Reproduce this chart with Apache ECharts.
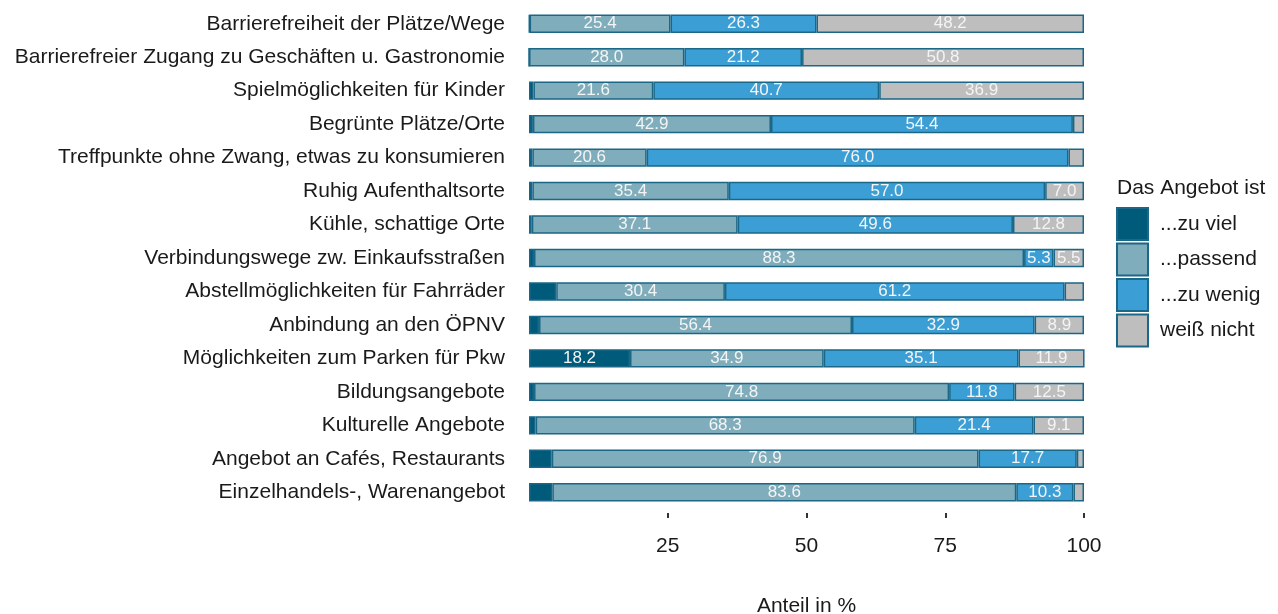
<!DOCTYPE html>
<html>
<head>
<meta charset="utf-8">
<script src="https://cdn.jsdelivr.net/npm/echarts@6/dist/echarts.min.js"></script>
<style>
html,body{margin:0;padding:0;background:#fff;overflow:hidden;}
#c{width:1278px;height:614px;}
</style>
</head>
<body>
<div id="c"></div>
<script>
const categories = [
  "Barrierefreiheit der Plätze/Wege",
  "Barrierefreier Zugang zu Geschäften u. Gastronomie",
  "Spielmöglichkeiten für Kinder",
  "Begrünte Plätze/Orte",
  "Treffpunkte ohne Zwang, etwas zu konsumieren",
  "Ruhig Aufenthaltsorte",
  "Kühle, schattige Orte",
  "Verbindungswege zw. Einkaufsstraßen",
  "Abstellmöglichkeiten für Fahrräder",
  "Anbindung an den ÖPNV",
  "Möglichkeiten zum Parken für Pkw",
  "Bildungsangebote",
  "Kulturelle Angebote",
  "Angebot an Cafés, Restaurants",
  "Einzelhandels-, Warenangebot"
];
const seriesNames = ["...zu viel", "...passend", "...zu wenig", "weiß nicht"];
const zuViel    = [0.1, 0.0, 0.8, 0.7, 0.6, 0.6, 0.5, 0.9, 4.9, 1.8, 18.2, 0.9, 1.2, 4.1, 4.2];
const passend   = [25.4, 28.0, 21.6, 42.9, 20.6, 35.4, 37.1, 88.3, 30.4, 56.4, 34.9, 74.8, 68.3, 76.9, 83.6];
const zuWenig   = [26.3, 21.2, 40.7, 54.4, 76.0, 57.0, 49.6, 5.3, 61.2, 32.9, 35.1, 11.8, 21.4, 17.7, 10.3];
const weissNicht= [48.2, 50.8, 36.9, 2.0, 2.8, 7.0, 12.8, 5.5, 3.5, 8.9, 11.9, 12.5, 9.1, 1.3, 1.9];
const xTicks = [25, 50, 75, 100];

const colors = ["#005b7a", "#7fadbb", "#3b9fd6", "#bebebe"];
const dataSets = [zuViel, passend, zuWenig, weissNicht];
const FONT = "Liberation Sans, Arial, sans-serif";

const chart = echarts.init(document.getElementById('c'));
chart.setOption({
  animation: false,
  textStyle: {fontFamily: FONT},
  title: {
    text: "Das Angebot ist",
    left: 1117, top: 178, padding: 0,
    textStyle: {fontSize: 21, fontWeight: 'normal', color: '#1a1a1a', fontFamily: FONT}
  },
  legend: {
    orient: 'vertical',
    left: 1116, top: 207, padding: 0,
    itemWidth: 31, itemHeight: 32, itemGap: 1.5,
    icon: 'rect',
    data: seriesNames,
    textStyle: {fontSize: 21, color: '#1a1a1a', padding: [0, 0, 0, 7], fontFamily: FONT}
  },
  grid: {left: 529, right: 194, top: 7, bottom: 105, containLabel: false, outerBoundsMode: 'none'},
  xAxis: {
    type: 'value', min: 0, max: 100, interval: 25,
    name: "Anteil in %", nameLocation: 'middle', nameGap: 83,
    nameTextStyle: {fontSize: 21, color: '#1a1a1a', fontFamily: FONT},
    axisLine: {show: false},
    splitLine: {show: false},
    axisTick: {show: true, length: 5, lineStyle: {color: '#333', width: 2}, customValues: xTicks},
    axisLabel: {fontSize: 21, color: '#1a1a1a', margin: 23, customValues: xTicks, fontFamily: FONT},
    offset: 4
  },
  yAxis: {
    type: 'category', data: categories, inverse: true,
    axisLine: {show: false}, axisTick: {show: false},
    axisLabel: {fontSize: 21, color: '#1a1a1a', margin: 24, fontFamily: FONT}
  },
  series: dataSets.map((d, i) => ({
    name: seriesNames[i],
    type: 'bar',
    stack: 'all',
    barWidth: '55%',
    data: d,
    itemStyle: {color: colors[i], borderColor: '#1a6787', borderWidth: 1.5},
    label: {
      show: true, position: 'inside', color: '#f4f4f4', fontSize: 17, fontFamily: FONT,
      formatter: p => p.value >= 5 ? p.value.toFixed(1) : ''
    }
  }))
});
</script>
</body>
</html>
